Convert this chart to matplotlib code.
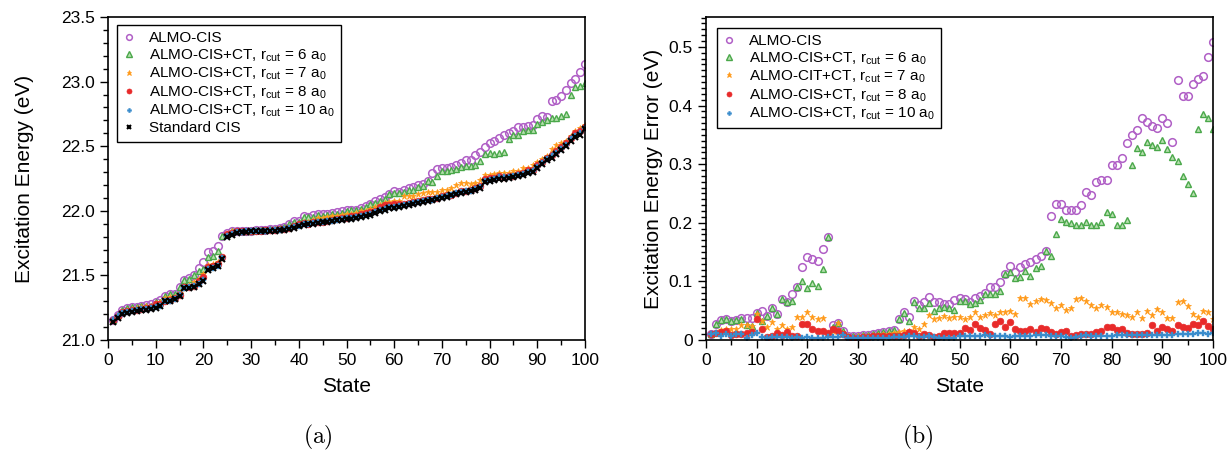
import numpy as np
import matplotlib
matplotlib.use("Agg")
import matplotlib.pyplot as plt
from matplotlib.ticker import MultipleLocator, FormatStrFormatter

plt.rcParams['font.family'] = ['Liberation Sans', 'DejaVu Sans']
plt.rcParams['mathtext.fontset'] = 'cm'

states = np.arange(1, 101)

# Standard CIS excitation energies (eV)
std_cis = [
    21.14, 21.17, 21.20, 21.21, 21.22, 21.225, 21.23, 21.235, 21.24, 21.245,
    21.26, 21.30, 21.30, 21.315, 21.34, 21.40, 21.405, 21.41, 21.43, 21.46,
    21.545, 21.555, 21.57, 21.63, 21.80, 21.815, 21.83, 21.835, 21.838, 21.84,
    21.84, 21.842, 21.843, 21.845, 21.847, 21.85, 21.855, 21.86, 21.87, 21.88,
    21.89, 21.895, 21.90, 21.905, 21.91, 21.915, 21.92, 21.925, 21.93, 21.935,
    21.94, 21.945, 21.95, 21.96, 21.97, 21.985, 22.00, 22.01, 22.02, 22.025,
    22.03, 22.04, 22.045, 22.05, 22.06, 22.065, 22.075, 22.08, 22.09, 22.10,
    22.11, 22.12, 22.13, 22.14, 22.145, 22.15, 22.16, 22.18, 22.22, 22.23,
    22.24, 22.25, 22.25, 22.255, 22.26, 22.27, 22.28, 22.29, 22.30, 22.33,
    22.36, 22.39, 22.41, 22.44, 22.47, 22.50, 22.54, 22.57, 22.59, 22.63,
]

# Errors relative to standard CIS (eV)
err_almo = [
    0.011, 0.027, 0.034, 0.035, 0.032, 0.034, 0.037, 0.037, 0.037, 0.046,
    0.049, 0.041, 0.054, 0.044, 0.070, 0.064, 0.078, 0.091, 0.124, 0.141,
    0.139, 0.134, 0.155, 0.175, 0.025, 0.029, 0.016, 0.007, 0.006, 0.007,
    0.008, 0.009, 0.010, 0.012, 0.013, 0.016, 0.017, 0.035, 0.048, 0.040,
    0.066, 0.059, 0.064, 0.074, 0.064, 0.064, 0.061, 0.062, 0.069, 0.072,
    0.070, 0.065, 0.072, 0.075, 0.080, 0.090, 0.090, 0.099, 0.113, 0.126,
    0.116, 0.124, 0.129, 0.133, 0.138, 0.143, 0.152, 0.212, 0.232, 0.232,
    0.222, 0.222, 0.221, 0.230, 0.252, 0.247, 0.269, 0.273, 0.273, 0.298,
    0.298, 0.310, 0.336, 0.349, 0.359, 0.378, 0.372, 0.365, 0.362, 0.378,
    0.371, 0.337, 0.443, 0.416, 0.416, 0.436, 0.446, 0.451, 0.482, 0.509,
]

err_ct6 = [
    0.011, 0.027, 0.034, 0.035, 0.032, 0.034, 0.035, 0.026, 0.0245, 0.046,
    0.033, 0.041, 0.054, 0.044, 0.070, 0.064, 0.067, 0.091, 0.101, 0.089,
    0.097, 0.092, 0.121, 0.175, 0.022, 0.029, 0.016, 0.007, 0.006, 0.007,
    0.008, 0.009, 0.010, 0.012, 0.013, 0.016, 0.017, 0.035, 0.046, 0.033,
    0.065, 0.054, 0.054, 0.063, 0.050, 0.054, 0.057, 0.054, 0.052, 0.067,
    0.067, 0.061, 0.063, 0.068, 0.079, 0.078, 0.078, 0.084, 0.113, 0.116,
    0.105, 0.108, 0.118, 0.109, 0.123, 0.127, 0.152, 0.143, 0.180, 0.207,
    0.201, 0.199, 0.197, 0.196, 0.202, 0.196, 0.196, 0.202, 0.218, 0.215,
    0.197, 0.197, 0.205, 0.299, 0.327, 0.320, 0.337, 0.333, 0.329, 0.341,
    0.326, 0.312, 0.305, 0.280, 0.266, 0.250, 0.360, 0.385, 0.378, 0.360,
]

err_ct7 = [
    0.011, 0.012, 0.017, 0.019, 0.019, 0.019, 0.025, 0.025, 0.024, 0.045,
    0.033, 0.022, 0.030, 0.019, 0.025, 0.018, 0.022, 0.040, 0.040, 0.047,
    0.039, 0.036, 0.037, 0.012, 0.016, 0.029, 0.012, 0.006, 0.005, 0.006,
    0.007, 0.007, 0.008, 0.009, 0.010, 0.011, 0.012, 0.014, 0.015, 0.016,
    0.023, 0.018, 0.027, 0.043, 0.036, 0.038, 0.041, 0.037, 0.039, 0.039,
    0.036, 0.040, 0.048, 0.039, 0.042, 0.046, 0.043, 0.048, 0.047, 0.050,
    0.044, 0.072, 0.071, 0.062, 0.067, 0.070, 0.069, 0.063, 0.055, 0.059,
    0.051, 0.054, 0.070, 0.072, 0.067, 0.060, 0.055, 0.059, 0.057, 0.047,
    0.047, 0.044, 0.042, 0.040, 0.048, 0.038, 0.049, 0.042, 0.053, 0.048,
    0.038, 0.038, 0.065, 0.067, 0.058, 0.044, 0.040, 0.050, 0.048, 0.035,
]

err_ct8 = [
    0.011, 0.0125, 0.014, 0.0155, 0.0085, 0.010, 0.011, 0.012, 0.014, 0.035,
    0.019, 0.005, 0.007, 0.0125, 0.0085, 0.013, 0.0075, 0.007, 0.027, 0.027,
    0.0195, 0.0155, 0.015, 0.0115, 0.018, 0.0155, 0.010, 0.005, 0.004, 0.004,
    0.005, 0.005, 0.006, 0.006, 0.006, 0.007, 0.007, 0.006, 0.009, 0.014,
    0.0125, 0.006, 0.010, 0.0085, 0.0045, 0.007, 0.0125, 0.0114, 0.0114, 0.0114,
    0.021, 0.017, 0.027, 0.020, 0.017, 0.011, 0.027, 0.033, 0.023, 0.031,
    0.019, 0.0155, 0.0155, 0.019, 0.013, 0.020, 0.019, 0.013, 0.010, 0.013,
    0.0155, 0.006, 0.009, 0.011, 0.011, 0.0097, 0.013, 0.0155, 0.023, 0.023,
    0.017, 0.019, 0.0125, 0.011, 0.011, 0.011, 0.0125, 0.026, 0.0155, 0.022,
    0.019, 0.016, 0.0255, 0.023, 0.020, 0.027, 0.025, 0.033, 0.0245, 0.019,
]

err_ct10 = [
    0.011, 0.0125, 0.007, 0.010, 0.007, 0.010, 0.011, 0.004, 0.0085, 0.0125,
    0.0045, 0.004, 0.0045, 0.0045, 0.0055, 0.0045, 0.004, 0.0045, 0.004, 0.0055,
    0.003, 0.004, 0.004, 0.0055, 0.0055, 0.0055, 0.0085, 0.003, 0.003, 0.003,
    0.003, 0.003, 0.004, 0.004, 0.004, 0.004, 0.005, 0.005, 0.005, 0.006,
    0.006, 0.005, 0.005, 0.006, 0.005, 0.004, 0.003, 0.003, 0.004, 0.007,
    0.007, 0.006, 0.007, 0.007, 0.008, 0.007, 0.007, 0.007, 0.006, 0.005,
    0.007, 0.007, 0.007, 0.007, 0.008, 0.008, 0.008, 0.007, 0.007, 0.006,
    0.005, 0.003, 0.005, 0.007, 0.008, 0.007, 0.006, 0.007, 0.007, 0.007,
    0.008, 0.008, 0.008, 0.008, 0.009, 0.009, 0.008, 0.008, 0.009, 0.009,
    0.008, 0.009, 0.011, 0.011, 0.010, 0.011, 0.012, 0.012, 0.011, 0.012,
]

labels_a = [
    'ALMO-CIS',
    r'ALMO-CIS+CT, r$\mathregular{_{cut}}$ = 6 a$\mathregular{_0}$',
    r'ALMO-CIS+CT, r$\mathregular{_{cut}}$ = 7 a$\mathregular{_0}$',
    r'ALMO-CIS+CT, r$\mathregular{_{cut}}$ = 8 a$\mathregular{_0}$',
    r'ALMO-CIS+CT, r$\mathregular{_{cut}}$ = 10 a$\mathregular{_0}$',
    'Standard CIS',
]
labels_b = [
    'ALMO-CIS',
    r'ALMO-CIS+CT, r$\mathregular{_{cut}}$ = 6 a$\mathregular{_0}$',
    r'ALMO-CIT+CT, r$\mathregular{_{cut}}$ = 7 a$\mathregular{_0}$',
    r'ALMO-CIS+CT, r$\mathregular{_{cut}}$ = 8 a$\mathregular{_0}$',
    r'ALMO-CIS+CT, r$\mathregular{_{cut}}$ = 10 a$\mathregular{_0}$',
]

PURPLE = '#b05fc6'
GREEN = '#4aa84a'
ORANGE = '#ff9a1a'
RED = '#e82a2a'
BLUE = '#3a8ccc'

styles = [
    dict(marker='o', ms=5.5, mfc='none', mec=PURPLE, mew=1.1),
    dict(marker='^', ms=5.0, mfc='#b8e0b0', mec=GREEN, mew=1.0),
    dict(marker='*', ms=5.0, mfc=ORANGE, mec=ORANGE, mew=0.5),
    dict(marker='o', ms=4.8, mfc=RED, mec=RED, mew=0.5),
    dict(marker='P', ms=4.2, mfc=BLUE, mec=BLUE, mew=0.3),
    dict(marker='x', ms=3.8, mfc='k', mec='k', mew=1.5),
]

std = np.array(std_cis)
errs = [np.array(e) for e in (err_almo, err_ct6, err_ct7, err_ct8, err_ct10)]

fig = plt.figure(figsize=(12.27, 4.51), dpi=100)
ax1 = fig.add_axes([108 / 1227, 1 - 340 / 451, 477 / 1227, 323 / 451])
ax2 = fig.add_axes([706 / 1227, 1 - 340 / 451, 507 / 1227, 323 / 451])

# (a) absolute excitation energies
for e, lab, st in zip(errs, labels_a[:5], styles[:5]):
    ax1.plot(states, std + e, ls='none', label=lab, **st)
ax1.plot(states, std, ls='none', label=labels_a[5], **styles[5])

# (b) errors relative to standard CIS
for e, lab, st in zip(errs, labels_b, styles[:5]):
    ax2.plot(states, e, ls='none', label=lab, **st)

ax1.set_xlim(0, 100)
ax1.set_ylim(21.0, 23.5)
ax1.xaxis.set_major_locator(MultipleLocator(10))
ax1.xaxis.set_minor_locator(MultipleLocator(5))
ax1.yaxis.set_major_locator(MultipleLocator(0.5))
ax1.yaxis.set_minor_locator(MultipleLocator(0.1))
ax1.yaxis.set_major_formatter(FormatStrFormatter('%.1f'))
ax1.set_ylabel('Excitation Energy (eV)', fontsize=15, labelpad=19)

ax2.set_xlim(0, 100)
ax2.set_ylim(0, 0.551)
ax2.xaxis.set_major_locator(MultipleLocator(10))
ax2.xaxis.set_minor_locator(MultipleLocator(5))
ax2.yaxis.set_minor_locator(MultipleLocator(0.01))
ax2.set_yticks([0, 0.1, 0.2, 0.3, 0.4, 0.5])
ax2.set_yticklabels(['0', '0.1', '0.2', '0.3', '0.4', '0.5'])
ax2.set_ylabel('Excitation Energy Error (eV)', fontsize=15, labelpad=4)

for ax in (ax1, ax2):
    ax.set_xlabel('State', fontsize=15, labelpad=6)
    ax.tick_params(which='both', direction='out', top=False, right=False,
                   labelsize=12.5, width=1.0)
    ax.tick_params(which='major', length=6)
    ax.tick_params(which='minor', length=3.5)
    for sp in ax.spines.values():
        sp.set_linewidth(1.2)

leg_kw = dict(loc='upper left', fontsize=11, frameon=True, fancybox=False,
              edgecolor='k', framealpha=1, handletextpad=0.9, handlelength=0.8,
              borderpad=0.4, labelspacing=0.14, markerscale=0.75,
              borderaxespad=0.0)
l1 = ax1.legend(bbox_to_anchor=(0.019, 0.975), **leg_kw)
l2 = ax2.legend(bbox_to_anchor=(0.0217, 0.966), **leg_kw)
for lg in (l1, l2):
    lg.get_frame().set_linewidth(1.0)

fig.text(318 / 1227, 1 - 437 / 451, r'$\mathrm{(a)}$', fontsize=17,
         ha='center', va='center')
fig.text(918 / 1227, 1 - 437 / 451, r'$\mathrm{(b)}$', fontsize=17,
         ha='center', va='center')

fig.savefig('out.png', dpi=100)
